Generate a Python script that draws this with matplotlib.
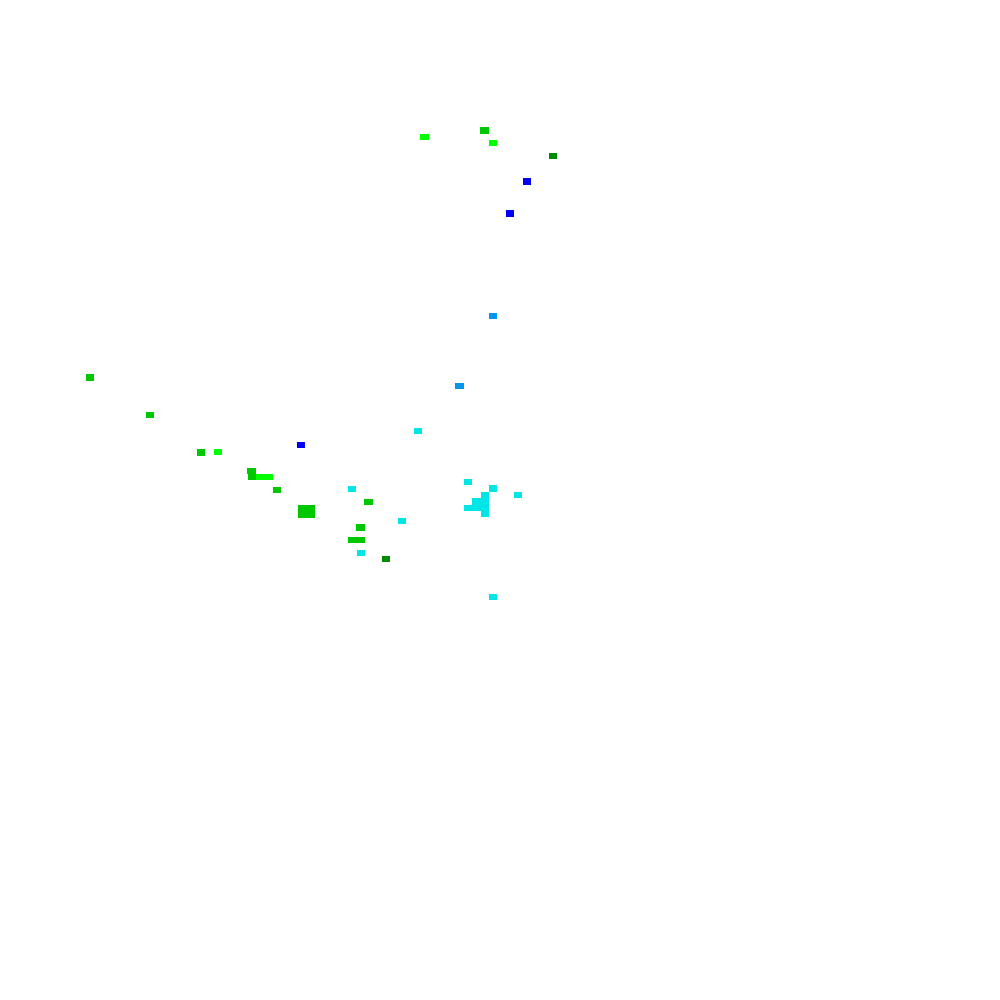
import matplotlib
matplotlib.use("Agg")
import matplotlib.pyplot as plt

# Marker centres (x: 0..100 left->right, y: 0..100 bottom->top) and class of each marker
x_vals = [42.45, 48.45, 49.3, 55.3, 52.7, 51.0,
          49.3, 45.95,
          9.0, 15.0, 20.1, 21.8,
          30.1, 25.15, 25.2, 26.05, 26.9, 27.7, 35.2,
          36.85, 30.2, 31.05, 30.2, 31.05, 40.2, 36.05, 35.2, 36.05, 36.1, 38.6,
          46.8, 49.3, 51.8,
          48.5, 48.5, 48.5, 48.5, 47.65, 47.65, 46.8,
          49.3, 41.8]
y_vals = [86.3, 86.95, 85.7, 84.4, 81.85, 78.65,
          68.4, 61.4,
          62.25, 58.5, 54.75, 54.8,
          55.5, 52.9, 52.3, 52.3, 52.3, 51.0, 51.1,
          49.8, 49.15, 49.15, 48.5, 48.5, 47.9, 47.25, 46.0, 46.0, 44.7, 44.1,
          51.8, 51.15, 50.5,
          50.5, 49.85, 49.2, 48.6, 49.85, 49.2, 49.2,
          40.3, 56.9]
classes = ["bright", "mid", "bright", "dark", "blue", "blue",
           "sky", "sky",
           "mid", "mid", "mid", "bright",
           "blue", "mid", "mid", "bright", "bright", "mid", "cyan",
           "mid", "mid", "mid", "mid", "mid", "cyan", "mid", "mid", "mid", "cyan", "dark",
           "cyan", "cyan", "cyan",
           "cyan", "cyan", "cyan", "cyan", "cyan", "cyan", "cyan",
           "cyan", "cyan"]

palette = {
    "bright": "#00ff00",
    "mid": "#00c800",
    "dark": "#008c00",
    "blue": "#0000f5",
    "sky": "#0096f0",
    "cyan": "#00e6e6",
}

cell_w = 0.87
cell_h = 0.66

fig = plt.figure(figsize=(10, 10), dpi=100)
ax = fig.add_axes([0, 0, 1, 1])
ax.set_xlim(0, 100)
ax.set_ylim(0, 100)
ax.axis("off")

colors = [palette[c] for c in classes]
bottoms = [y - cell_h / 2 for y in y_vals]
ax.bar(x_vals, [cell_h] * len(x_vals), width=cell_w, bottom=bottoms,
       color=colors, linewidth=0, antialiased=False, align="center")

fig.savefig("out.png", dpi=100, facecolor="white")
